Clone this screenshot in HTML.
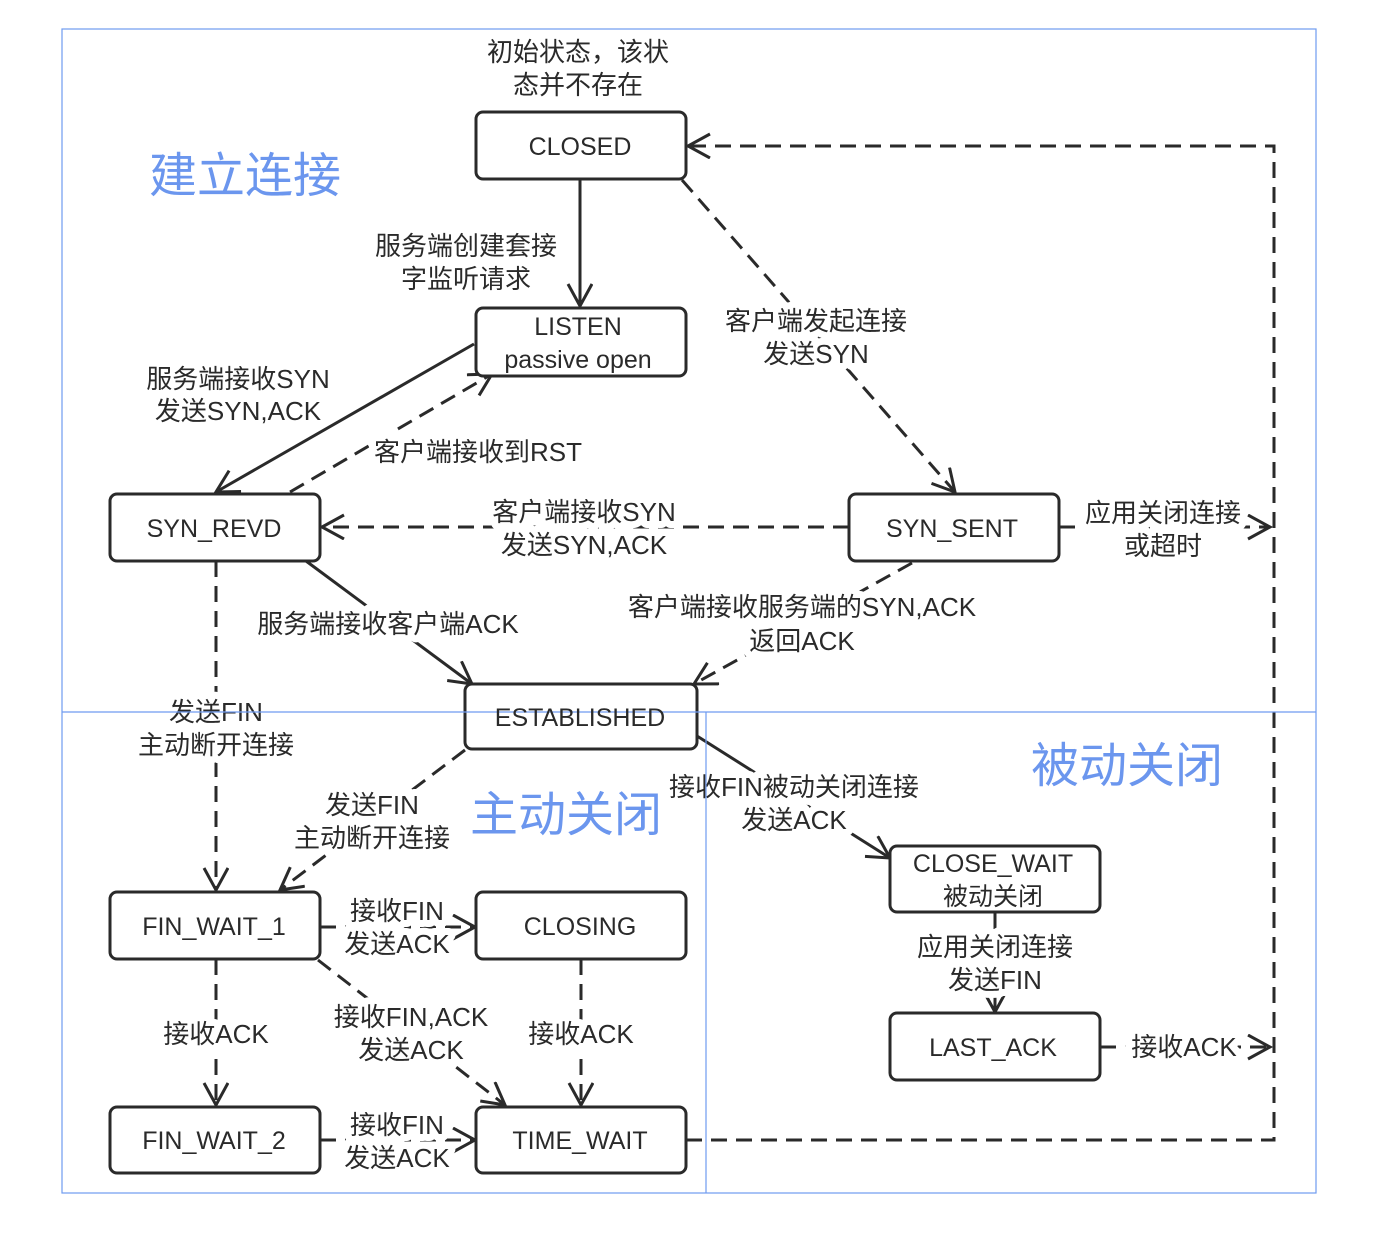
<!DOCTYPE html>
<html><head><meta charset="utf-8">
<style>
html,body{margin:0;padding:0;background:#fff;}
svg{display:block;}
text{font-family:"Liberation Sans","Noto Sans CJK SC",sans-serif;fill:#2a2a2a;}
.l{font-size:26px;text-anchor:middle;paint-order:stroke;stroke:#fff;stroke-width:14px;stroke-linejoin:round;}
.b{font-size:25px;text-anchor:middle;}
.t{font-size:48px;fill:#6b96ee;text-anchor:middle;}
.box{fill:#fff;stroke:#2a2a2a;stroke-width:3;}
.s{stroke:#2a2a2a;stroke-width:3;fill:none;}
.d{stroke:#2a2a2a;stroke-width:3;fill:none;stroke-dasharray:16 9;}
.f{stroke:#6f9bf0;stroke-width:1.2;fill:none;}
</style></head><body>
<svg width="1376" height="1244" viewBox="0 0 1376 1244" xmlns="http://www.w3.org/2000/svg">
<defs>
<marker id="a" markerUnits="userSpaceOnUse" markerWidth="30" markerHeight="30" refX="24" refY="13" orient="auto">
<path d="M2,1 L24,13 L2,25" fill="none" stroke="#2a2a2a" stroke-width="3"/>
</marker>
</defs>

<rect class="f" x="62" y="29" width="1254" height="1164"/>

<line class="s" x1="580" y1="179" x2="580" y2="306" marker-end="url(#a)"/>
<line class="d" x1="682" y1="180" x2="955" y2="492" marker-end="url(#a)"/>
<polyline class="d" points="686,1140 1274,1140 1274,146 688,146" marker-end="url(#a)"/>
<line class="d" x1="1059" y1="527" x2="1270" y2="527" marker-end="url(#a)"/>
<line class="d" x1="1100" y1="1047" x2="1270" y2="1047" marker-end="url(#a)"/>
<line class="s" x1="474" y1="344" x2="216" y2="492" marker-end="url(#a)"/>
<line class="d" x1="290" y1="492" x2="492" y2="374" marker-end="url(#a)"/>
<line class="d" x1="849" y1="527" x2="322" y2="527" marker-end="url(#a)"/>
<line class="s" x1="306" y1="561" x2="472" y2="684" marker-end="url(#a)"/>
<line class="d" x1="912" y1="563" x2="694" y2="684" marker-end="url(#a)"/>
<line class="d" x1="216" y1="561" x2="216" y2="890" marker-end="url(#a)"/>
<line class="d" x1="465" y1="750" x2="280" y2="890" marker-end="url(#a)"/>
<line class="s" x1="697" y1="736" x2="890" y2="858" marker-end="url(#a)"/>
<line class="s" x1="995" y1="912" x2="995" y2="1012" marker-end="url(#a)"/>
<line class="d" x1="320" y1="927" x2="475" y2="927" marker-end="url(#a)"/>
<line class="d" x1="318" y1="960" x2="505" y2="1105" marker-end="url(#a)"/>
<line class="d" x1="216" y1="959" x2="216" y2="1105" marker-end="url(#a)"/>
<line class="d" x1="581" y1="959" x2="581" y2="1105" marker-end="url(#a)"/>
<line class="d" x1="320" y1="1140" x2="475" y2="1140" marker-end="url(#a)"/>

<rect class="box" x="476" y="112" width="210" height="67" rx="7"/>
<rect class="box" x="476" y="308" width="210" height="68" rx="7"/>
<rect class="box" x="110" y="494" width="210" height="67" rx="7"/>
<rect class="box" x="849" y="494" width="210" height="67" rx="7"/>
<rect class="box" x="465" y="684" width="232" height="65" rx="7"/>
<rect class="box" x="890" y="846" width="210" height="66" rx="7"/>
<rect class="box" x="890" y="1013" width="210" height="67" rx="7"/>
<rect class="box" x="110" y="892" width="210" height="67" rx="7"/>
<rect class="box" x="476" y="892" width="210" height="67" rx="7"/>
<rect class="box" x="110" y="1107" width="210" height="66" rx="7"/>
<rect class="box" x="476" y="1107" width="210" height="66" rx="7"/>

<text class="l" x="578" y="61">初始状态，该状</text>
<text class="l" x="578" y="94">态并不存在</text>
<text class="l" x="466" y="255">服务端创建套接</text>
<text class="l" x="466" y="288">字监听请求</text>
<text class="l" x="816" y="330">客户端发起连接</text>
<text class="l" x="816" y="363">发送SYN</text>
<text class="l" x="238" y="388">服务端接收SYN</text>
<text class="l" x="238" y="420">发送SYN,ACK</text>
<text class="l" x="478" y="461">客户端接收到RST</text>
<text class="l" x="584" y="521">客户端接收SYN</text>
<text class="l" x="584" y="554">发送SYN,ACK</text>
<text class="l" x="1163" y="522">应用关闭连接</text>
<text class="l" x="1163" y="555">或超时</text>
<text class="l" x="388" y="633">服务端接收客户端ACK</text>
<text class="l" x="802" y="616">客户端接收服务端的SYN,ACK</text>
<text class="l" x="802" y="650">返回ACK</text>
<text class="l" x="216" y="721">发送FIN</text>
<text class="l" x="216" y="754">主动断开连接</text>
<text class="l" x="372" y="814">发送FIN</text>
<text class="l" x="372" y="847">主动断开连接</text>
<text class="l" x="794" y="796">接收FIN被动关闭连接</text>
<text class="l" x="794" y="829">发送ACK</text>
<text class="l" x="995" y="956">应用关闭连接</text>
<text class="l" x="995" y="989">发送FIN</text>
<text class="l" x="1184" y="1056">接收ACK</text>
<text class="l" x="397" y="920">接收FIN</text>
<text class="l" x="397" y="953">发送ACK</text>
<text class="l" x="216" y="1043">接收ACK</text>
<text class="l" x="581" y="1043">接收ACK</text>
<text class="l" x="411" y="1026">接收FIN,ACK</text>
<text class="l" x="411" y="1059">发送ACK</text>
<text class="l" x="397" y="1134">接收FIN</text>
<text class="l" x="397" y="1167">发送ACK</text>

<line class="f" x1="62" y1="712" x2="1316" y2="712"/>
<line class="f" x1="706" y1="712" x2="706" y2="1193"/>

<text class="b" x="580" y="155">CLOSED</text>
<text class="b" x="578" y="335">LISTEN</text>
<text class="b" x="578" y="368">passive open</text>
<text class="b" x="214" y="537">SYN_REVD</text>
<text class="b" x="952" y="537">SYN_SENT</text>
<text class="b" x="580" y="726">ESTABLISHED</text>
<text class="b" x="993" y="872">CLOSE_WAIT</text>
<text class="b" x="993" y="905">被动关闭</text>
<text class="b" x="993" y="1056">LAST_ACK</text>
<text class="b" x="214" y="935">FIN_WAIT_1</text>
<text class="b" x="580" y="935">CLOSING</text>
<text class="b" x="214" y="1149">FIN_WAIT_2</text>
<text class="b" x="580" y="1149">TIME_WAIT</text>

<text class="t" x="245" y="192">建立连接</text>
<text class="t" x="566" y="831">主动关闭</text>
<text class="t" x="1127" y="782">被动关闭</text>
</svg>
</body></html>
